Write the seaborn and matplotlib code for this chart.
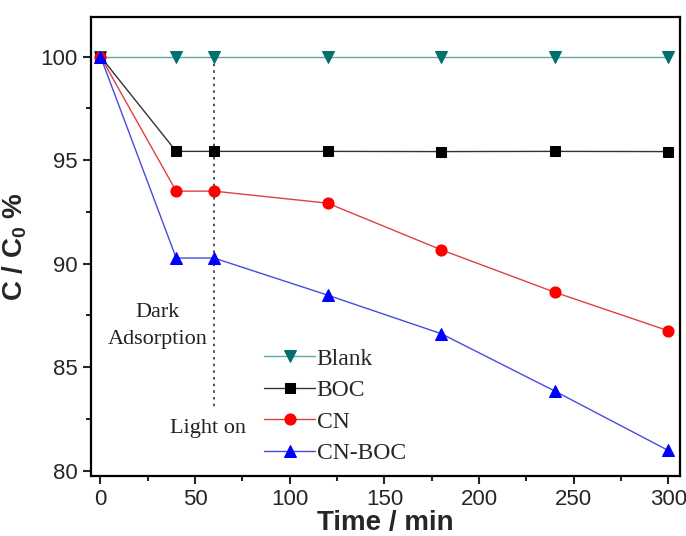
import matplotlib
matplotlib.use("Agg")
import matplotlib.pyplot as plt
import seaborn as sns
import pandas as pd
from matplotlib.ticker import MultipleLocator

time_min = [0, 40, 60, 120, 180, 240, 300]
blank = [100, 100, 100, 100, 100, 100, 100]
boc = [100, 95.42, 95.42, 95.42, 95.41, 95.42, 95.41]
cn = [100, 93.5, 93.5, 92.92, 90.67, 88.62, 86.76]
cn_boc = [100, 90.27, 90.27, 88.48, 86.62, 83.85, 80.98]
series_names = ["Blank", "BOC", "CN", "CN-BOC"]

df = pd.DataFrame({"t": time_min * 4,
                   "v": blank + boc + cn + cn_boc,
                   "s": sum([[n] * len(time_min) for n in series_names], [])})

sns.set_theme(style="ticks")
plt.rcParams["font.family"] = ["Liberation Sans", "DejaVu Sans"]
plt.rcParams["mathtext.fontset"] = "custom"
plt.rcParams["mathtext.bf"] = "Liberation Sans:bold"
plt.rcParams["mathtext.rm"] = "Liberation Sans:bold"

fig = plt.figure(figsize=(6.86, 5.36), dpi=100)
ax = fig.add_axes([0.1327, 0.112, 0.858, 0.856])

styles = {
    "Blank": dict(line="#5fa8a8", mk="#007070", marker="v", ms=8.5),
    "BOC": dict(line="#333333", mk="#000000", marker="s", ms=7.5),
    "CN": dict(line="#e04040", mk="#ff0000", marker="o", ms=8),
    "CN-BOC": dict(line="#4a4ae0", mk="#0000ff", marker="^", ms=8.5),
}
for name in series_names:
    st = styles[name]
    sub = df[df["s"] == name]
    sns.lineplot(data=sub, x="t", y="v", ax=ax, color=st["line"], lw=1.0,
                 marker=st["marker"], markersize=st["ms"], markerfacecolor=st["mk"],
                 markeredgecolor=st["mk"], label=name, zorder=3)

ax.plot([60, 60], [100, 83.1], ls=(0, (1.5, 2.5)), color="#333333", lw=1.2, zorder=2)
ax.text(30, 87.0, "Dark\nAdsorption", ha="center", va="center", fontsize=16,
        family="Liberation Serif", linespacing=1.6, color="#222222")
ax.text(57, 82.05, "Light on", ha="center", va="center", fontsize=16,
        family="Liberation Serif", color="#222222")

ax.set_xlim(-5, 306)
ax.set_ylim(79.75, 101.9)
ax.xaxis.set_major_locator(MultipleLocator(50))
ax.xaxis.set_minor_locator(MultipleLocator(25))
ax.yaxis.set_major_locator(MultipleLocator(5))
ax.yaxis.set_minor_locator(MultipleLocator(2.5))
ax.tick_params(which="major", direction="out", length=6, width=1.5, labelsize=16,
               top=False, right=False)
ax.tick_params(which="minor", direction="out", length=3.5, width=1.5, top=False, right=False)
for sp in ax.spines.values():
    sp.set_linewidth(1.6)
    sp.set_color("black")

ax.set_xlabel("Time / min", fontsize=20, fontweight="bold", labelpad=0)
ax.set_ylabel(r"C / C$_\mathbf{0}$ %", fontsize=20, fontweight="bold", labelpad=8)

leg = ax.legend(loc="lower left", bbox_to_anchor=(0.265, -0.01), frameon=False,
                prop={"family": "Liberation Serif", "size": 17},
                handlelength=2.2, handletextpad=0.05, labelspacing=0.42,
                numpoints=1, borderaxespad=0.3)

fig.savefig("out.png", dpi=100)
